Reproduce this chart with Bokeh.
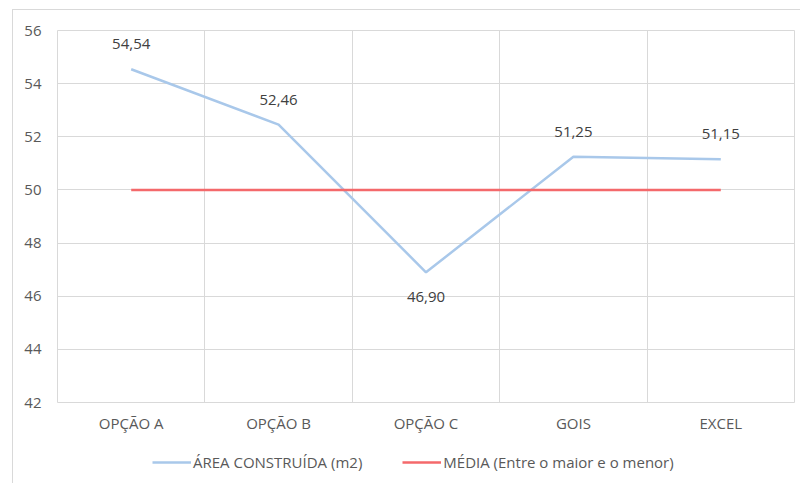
from bokeh.plotting import figure
from bokeh.layouts import column
from bokeh.models import Range1d, FixedTicker, Legend, LegendItem, ColumnDataSource
from bokeh.core.properties import value
from bokeh.embed import file_html
from bokeh.resources import INLINE

categories = ["OPÇÃO A", "OPÇÃO B", "OPÇÃO C", "GOIS", "EXCEL"]
area = [54.54, 52.46, 46.90, 51.25, 51.15]
media = [50, 50, 50, 50, 50]
y_ticks = [42, 44, 46, 48, 50, 52, 54, 56]
series_names = ["ÁREA CONSTRUÍDA (m2)", "MÉDIA (Entre o maior e o menor)"]

FONT = "Open Sans"
FS = "15px"
BLUE = "#a9c8ea"
RED = "#f4696b"
xs = [i + 0.5 for i in range(len(categories))]

p = figure(width=788, height=430, output_backend="svg", toolbar_location=None,
           x_range=Range1d(0, len(categories)), y_range=Range1d(42, 56),
           min_border_left=44, min_border_top=20, min_border_right=7, min_border_bottom=38)
p.background_fill_color = "white"
p.border_fill_color = "white"
p.outline_line_color = "#d9d9d9"

p.xaxis.ticker = FixedTicker(ticks=xs)
p.xaxis.major_label_overrides = {x: c for x, c in zip(xs, categories)}
p.yaxis.ticker = FixedTicker(ticks=y_ticks)
for ax in (p.xaxis, p.yaxis):
    ax.axis_line_color = None
    ax.major_tick_line_color = None
    ax.minor_tick_line_color = None
    ax.major_label_text_font = FONT
    ax.major_label_text_font_size = FS
    ax.major_label_text_color = "#595959"
p.xaxis.major_label_standoff = 4
p.yaxis.major_label_standoff = 10

p.xgrid.ticker = FixedTicker(ticks=list(range(len(categories) + 1)))
p.ygrid.ticker = FixedTicker(ticks=y_ticks)
p.xgrid.grid_line_color = "#d9d9d9"
p.ygrid.grid_line_color = "#d9d9d9"

src = ColumnDataSource(dict(
    x=xs, area=area, media=media,
    lbl=[f"{v:.2f}".replace(".", ",") for v in area],
    off=[25 if v < m else -25 for v, m in zip(area, media)],
))

p.line("x", "area", source=src, line_color=BLUE, line_width=2.5)
p.line("x", "media", source=src, line_color=RED, line_width=2.5)

p.text("x", "area", text="lbl", y_offset="off", source=src, text_align="center",
       text_baseline="middle", text_font=value(FONT), text_font_size=FS,
       text_color="#404040")

# legend strip (its renderers share the data but lie outside its visible range)
pl = figure(width=788, height=44, output_backend="svg", toolbar_location=None,
            x_range=Range1d(0, 1), y_range=Range1d(0, 1),
            min_border=0, x_axis_type=None, y_axis_type=None)
pl.outline_line_color = None
pl.grid.visible = False
pl.background_fill_color = "white"
pl.border_fill_color = "white"
la = pl.line("x", "area", source=src, line_color=BLUE, line_width=2.5)
lm = pl.line("x", "media", source=src, line_color=RED, line_width=2.5)
leg = Legend(items=[LegendItem(label=series_names[0], renderers=[la]),
                    LegendItem(label=series_names[1], renderers=[lm])],
             location=(95, 12), orientation="horizontal")
leg.padding = 0
leg.margin = 0
leg.spacing = 40
leg.border_line_color = None
leg.background_fill_alpha = 0
leg.glyph_width = 39
leg.glyph_height = 20
leg.label_height = 20
leg.label_standoff = 2
leg.label_text_font = FONT
leg.label_text_font_size = FS
leg.label_text_color = "#595959"
pl.add_layout(leg, "center")

layout = column(p, pl, spacing=0, margin=(9, 0, 0, 12),
                styles={"border-left": "1px solid #d9d9d9", "border-top": "1px solid #d9d9d9"})

open("out.html", "w").write(file_html(layout, INLINE))
